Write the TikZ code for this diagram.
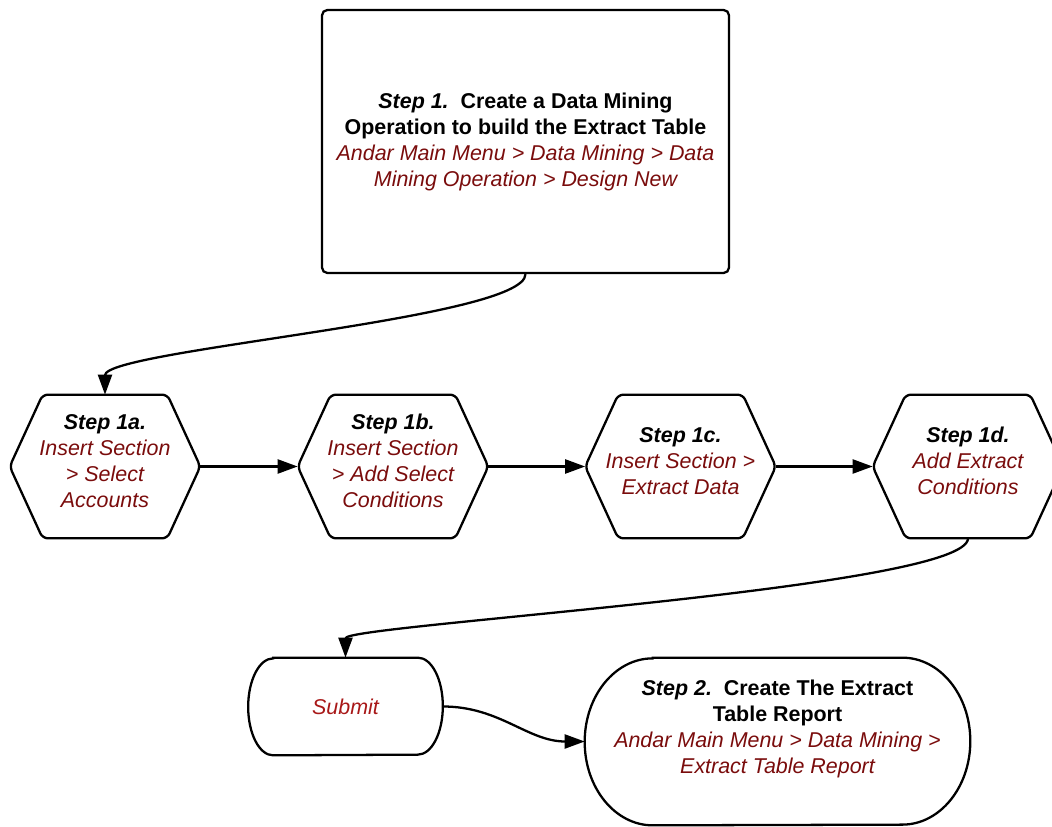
\documentclass[tikz,border=0pt]{standalone}
\usepackage{fontspec}
\setmainfont{Liberation Sans}
\usepackage{xcolor}
\usepackage{tikz}
\usetikzlibrary{arrows.meta}
\definecolor{menured}{RGB}{122,12,12}
\definecolor{submitred}{RGB}{168,24,24}
\newcommand{\menu}{\color{menured}\itshape}
\tikzset{
  base/.style={font=\fontsize{12.2pt}{14.8pt}\selectfont, align=center, inner sep=2pt, text=black},
  box/.style={base, rectangle, rounded corners=3pt, draw=black, line width=1.3pt, minimum width=8.14cm, minimum height=5.26cm},
  hexbox/.style={base, rectangle, minimum width=3.8cm, minimum height=2.86cm, text depth=6.8pt},
  term/.style={base, rectangle},
  outline/.style={line width=1.3pt, draw=black, rounded corners=3pt},
  arr/.style={-{Triangle[length=4mm,width=2.8mm]}, line width=1.3pt, draw=black},
}
\begin{document}
\begin{tikzpicture}[x=0.02cm,y=-0.02cm]
  \useasboundingbox (0,0) rectangle (1052,827);
  \node[box] (step1) at (525.5,141.5) {\textbf{\textit{Step 1.}\ \ Create a Data Mining}\\\textbf{Operation to build the Extract Table}\\{\menu Andar Main Menu > Data Mining > Data}\\{\menu Mining Operation > Design New}};
  \node[hexbox] (s1a) at (105,466.5)   {\textbf{\textit{Step 1a.}}\\{\menu Insert Section}\\{\menu > Select}\\{\menu Accounts}};
  \node[hexbox] (s1b) at (393,466.5)   {\textbf{\textit{Step 1b.}}\\{\menu Insert Section}\\{\menu > Add Select}\\{\menu Conditions}};
  \node[hexbox] (s1c) at (680.5,466.5) {\textbf{\textit{Step 1c.}}\\{\menu Insert Section >}\\{\menu Extract Data}};
  \node[hexbox] (s1d) at (968,466.5)   {\textbf{\textit{Step 1d.}}\\{\menu Add Extract}\\{\menu Conditions}};
  \node[term,minimum width=3.88cm,minimum height=1.94cm] (submit) at (345.5,706.5) {{\color{submitred}\itshape Submit}};
  \node[term,minimum width=7.7cm,minimum height=3.34cm,text depth=16.8pt] (step2) at (777.5,741.5) {\textbf{\textit{Step 2.}\ \ Create The Extract}\\\textbf{Table Report}\\{\menu Andar Main Menu > Data Mining >}\\{\menu Extract Table Report}};
  % hexagon outlines
  \foreach \n in {s1a,s1b,s1c,s1d}
    \draw[outline] (\n.west) -- ([xshift=0.66cm]\n.north west) -- ([xshift=-0.66cm]\n.north east) -- (\n.east) -- ([xshift=-0.66cm]\n.south east) -- ([xshift=0.66cm]\n.south west) -- cycle;
  % terminal outlines with elliptic ends
  \foreach \n/\rx/\ry in {submit/0.5cm/0.97cm,step2/1.36cm/1.67cm}
    \draw[outline,rounded corners=0pt] ([xshift=\rx]\n.north west) -- ([xshift=-\rx]\n.north east)
      arc[start angle=90,end angle=-90,x radius=\rx,y radius=\ry] -- ([xshift=\rx]\n.south west)
      arc[start angle=270,end angle=90,x radius=\rx,y radius=\ry] -- cycle;
  \foreach \a/\b in {s1a/s1b,s1b/s1c,s1c/s1d}{\draw[arr] (\a) -- (\b);}
  \draw[arr] (step1.south) .. controls +(0,45) and +(0,-45) .. (s1a.north);
  \draw[arr] (s1d.south) .. controls +(0,50) and +(0,-33) .. (submit.north);
  \draw[arr] (submit.east) to[out=0,in=180] (step2.west);
\end{tikzpicture}
\end{document}
